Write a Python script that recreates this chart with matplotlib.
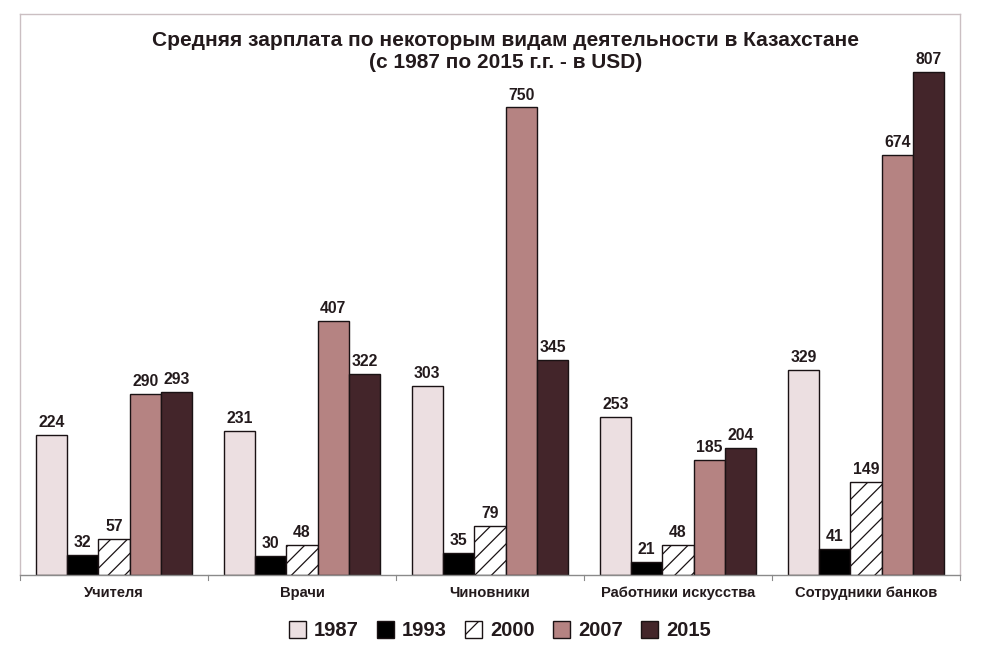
import numpy as np
import matplotlib.pyplot as plt
from matplotlib.patches import Patch

plt.rcParams['font.family'] = ['Liberation Sans', 'DejaVu Sans']
plt.rcParams['hatch.linewidth'] = 0.9

categories = ['Учителя', 'Врачи', 'Чиновники', 'Работники искусства', 'Сотрудники банков']
years = ['1987', '1993', '2000', '2007', '2015']
salary_1987 = [224, 231, 303, 253, 329]
salary_1993 = [32, 30, 35, 21, 41]
salary_2000 = [57, 48, 79, 48, 149]
salary_2007 = [290, 407, 750, 185, 674]
salary_2015 = [293, 322, 345, 204, 807]

series = [salary_1987, salary_1993, salary_2000, salary_2007, salary_2015]
colors = ['#ecdfe1', '#000000', '#ffffff', '#b58382', '#43252a']
hatches = [None, None, '//', None, None]
text_col = '#231a1c'

fig = plt.figure(figsize=(10, 6.67), dpi=100)
ax = fig.add_axes([0.02, 0.138, 0.94, 0.841])

x = np.arange(len(categories))
w = 0.1667
for i, vals in enumerate(series):
    pos = x + (i - 2) * w
    bars = ax.bar(pos, vals, width=w, color=colors[i], edgecolor='#1a1214',
                  linewidth=1.0, hatch=hatches[i], zorder=2)
    for b, v in zip(bars, vals):
        ax.text(b.get_x() + b.get_width() / 2, v + 8, str(v), ha='center',
                va='bottom', fontsize=11.3, fontweight='bold', color=text_col)

ax.set_xlim(-0.5, len(categories) - 0.5)
ax.set_ylim(0, 900)
ax.set_yticks([])
ax.set_xticks(x)
ax.set_xticklabels(categories, fontsize=10.6, fontweight='bold', color=text_col)
ax.tick_params(axis='x', length=0, pad=8)
# separator ticks between categories
for b in np.arange(-0.5, len(categories), 1.0):
    ax.plot([b, b], [0, -8], color='#8a8a8a', lw=0.8, clip_on=False)

for s in ['left', 'top', 'right']:
    ax.spines[s].set_color('#cbbfc2')
    ax.spines[s].set_linewidth(1.0)
ax.spines['bottom'].set_color('#8a8a8a')
ax.spines['bottom'].set_linewidth(1.0)

fig.text(0.5055, 0.940, 'Средняя зарплата по некоторым видам деятельности в Казахстане',
         ha='center', va='center', fontsize=15, fontweight='bold', color=text_col)
fig.text(0.5055, 0.907, '(с 1987 по 2015 г.г. - в USD)',
         ha='center', va='center', fontsize=15, fontweight='bold', color=text_col)

handles = [Patch(facecolor=colors[i], edgecolor='#1a1214', hatch='/' if hatches[i] else None, lw=1.0)
           for i in range(len(years))]
fig.legend(handles, years, loc='center', bbox_to_anchor=(0.5, 0.054), ncol=5,
           frameon=False, prop={'size': 14.5, 'weight': 'bold'}, handlelength=0.85,
           handleheight=0.85, handletextpad=0.4, columnspacing=0.9,
           labelcolor=text_col)

fig.savefig('out.png', dpi=100, facecolor='white')
